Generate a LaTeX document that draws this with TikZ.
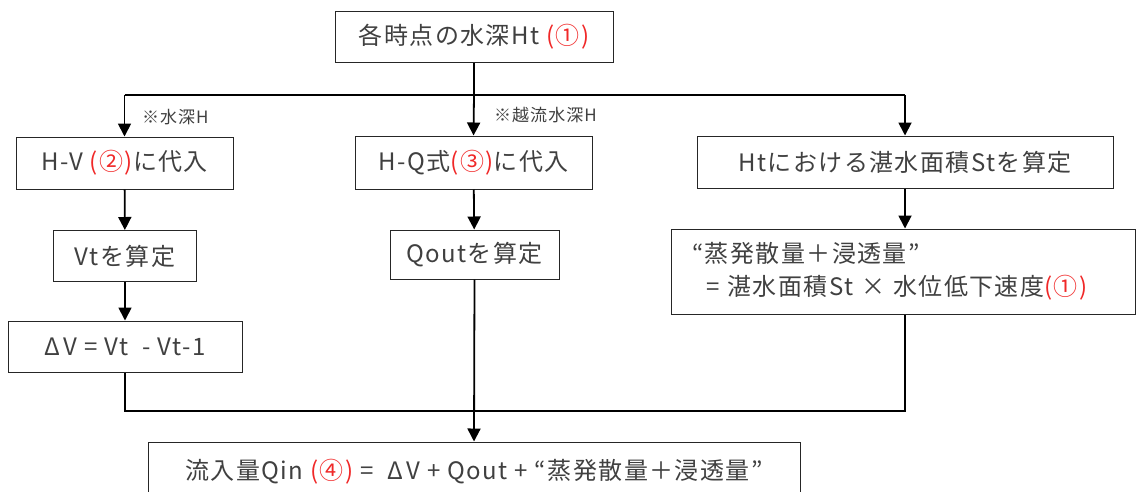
\documentclass[tikz,border=0pt]{standalone}
\usepackage{fontspec}
\setmainfont[LetterSpace=6]{Noto Sans CJK JP}
\usetikzlibrary{arrows.meta}
\definecolor{txt}{gray}{0.25}
\definecolor{nred}{RGB}{240,40,40}
\newcommand{\rd}[1]{\textcolor{nred}{#1}}
\begin{document}
\begin{tikzpicture}[x=1pt,y=-1pt,
  box/.style={draw=black!85,line width=1pt,inner sep=0pt,text=txt,font=\fontsize{24}{28}\selectfont,align=center},
  wire/.style={line width=1.8pt,black},
  arr/.style={wire,-{Triangle[length=13pt,width=13pt]}},
  note/.style={inner sep=0pt,anchor=west,text=txt,font=\fontsize{17}{20}\selectfont}]
\useasboundingbox (0,0) rectangle (1137,491);
\node[box,minimum width=278pt,minimum height=51pt] (top) at (474,36.5) {各時点の水深Ht \rd{(①)}};
\node[box,minimum width=217pt,minimum height=52pt] (hv) at (124.5,163) {H-V \rd{(②)}に代入};
\node[box,minimum width=237pt,minimum height=53pt] (hq) at (473.5,162.5) {H-Q式\rd{(③)}に代入};
\node[box,minimum width=416pt,minimum height=52pt] (st) at (905,162) {Htにおける湛水面積Stを算定};
\node[box,minimum width=143pt,minimum height=51pt] (vt) at (125,256) {Vtを算定};
\node[box,minimum width=169pt,minimum height=49pt] (qo) at (474.5,254.5) {Qoutを算定};
\node[box,minimum width=464pt,minimum height=85pt,text width=422pt,align=left,inner xsep=21pt,font=\fontsize{24}{33}\selectfont] (ev) at (903,271.5) {“蒸発散量＋浸透量”\\\hspace*{14pt}= 湛水面積St × 水位低下速度\rd{(①)}};
\node[box,minimum width=234pt,minimum height=51pt] (dv) at (125,346.5) {Δ\,V = Vt\ \ - Vt-1};
\node[box,minimum width=652pt,minimum height=60pt] (bt) at (474,472) {流入量Qin \rd{(④)} = \ Δ\,V + Qout + “蒸発散量＋浸透量”};
\node[note] (n1) at (142,117) {※水深H};
\node[note] (n2) at (494,115) {※越流水深H};
\coordinate (j) at (474,95);
\coordinate (k) at (474,411);
\draw[wire] (top.south) -- (j);
\draw[wire] (hv.north |- j) -- (st.north |- j);
\draw[arr] (hv.north |- j) -- (hv.north);
\draw[arr] (j) -- (hq.north);
\draw[arr] (st.north |- j) -- (st.north);
\draw[arr] (hv) -- (vt);
\draw[arr] (vt) -- (dv);
\draw[arr] (hq) -- (qo);
\draw[arr] (st.south) -- (ev.north -| st.south);
\draw[wire] (dv.south) -- (dv.south |- k) -- (st.south |- k) -- (st.south |- ev.south);
\draw[arr] (qo.south) -- (bt.north);
\end{tikzpicture}
\end{document}
